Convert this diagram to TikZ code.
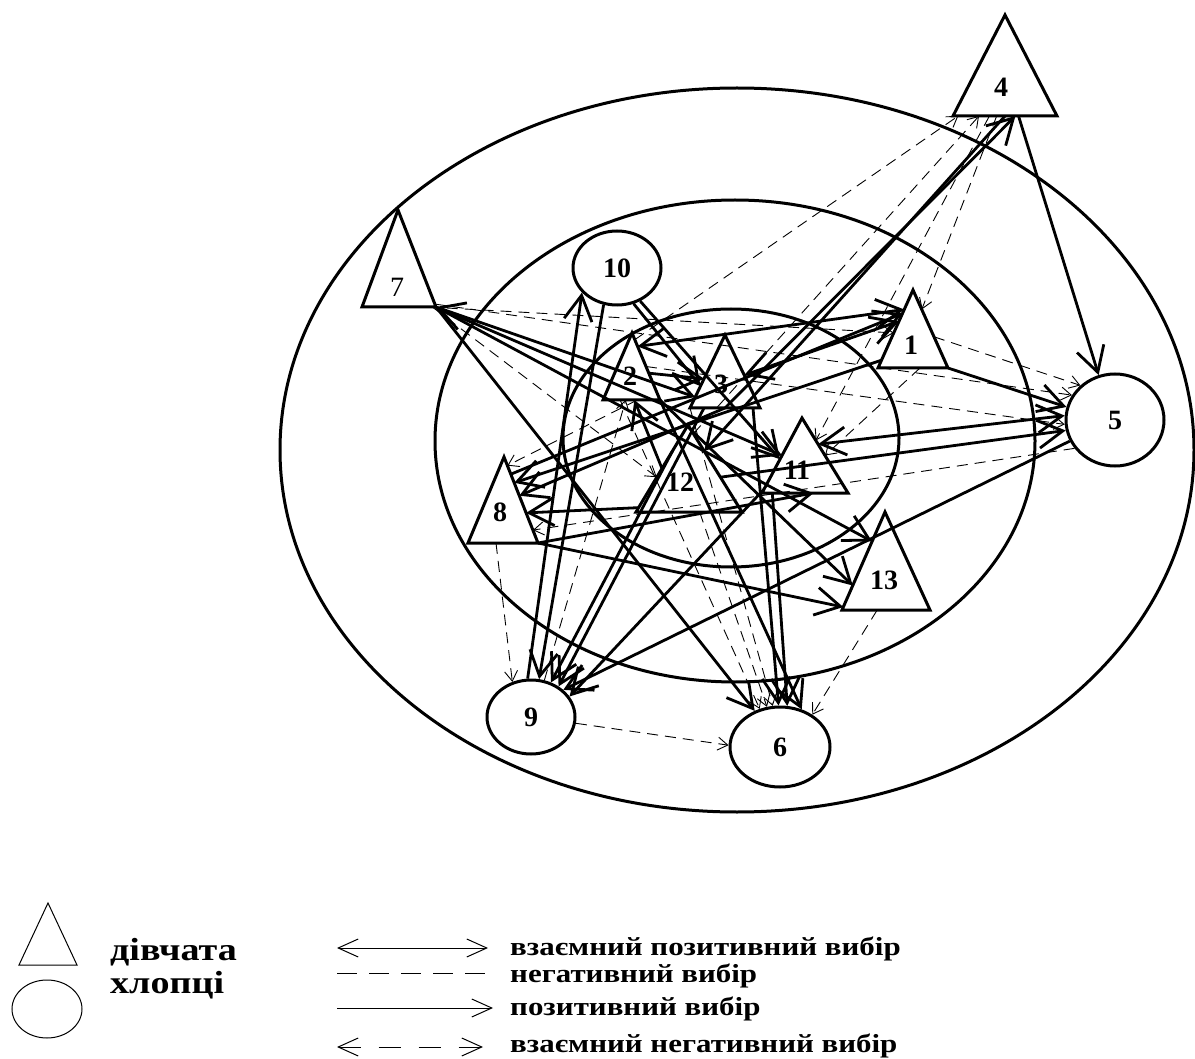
\documentclass[tikz,border=0pt]{standalone}
\usepackage{fontspec}
\setmainfont{Liberation Serif}
\usetikzlibrary{arrows.meta,shapes.geometric,calc}
\newcommand{\legwide}[1]{\scalebox{1.19}[1]{#1}}
\tikzset{
  ringline/.style={line width=3pt},
  tri/.style={draw, line width=3pt, line join=miter},
  num/.style={font=\bfseries\fontsize{28}{28}\selectfont, inner sep=0pt},
  boy/.style={draw, ellipse, line width=3pt, inner sep=0pt, font=\bfseries\fontsize{28}{28}\selectfont},
  bigtip/.tip={Straight Barb[length=25pt,width=28pt]},
  smalltip/.tip={Straight Barb[length=10pt,width=13pt]},
  legtip/.tip={Straight Barb[length=20pt,width=18pt]},
  posarr/.style={line width=2.8pt, -bigtip},
  mutpos/.style={line width=2.8pt, bigtip-bigtip},
  negarr/.style={line width=0.9pt, dash pattern=on 11pt off 7pt, -smalltip},
  legline/.style={line width=1pt},
  legtext/.style={font=\bfseries\fontsize{26}{28}\selectfont, anchor=base west, inner sep=0pt},
  legtextb/.style={font=\bfseries\fontsize{32}{34}\selectfont, anchor=base west, inner sep=0pt}
}
\begin{document}
\begin{tikzpicture}[x=1pt,y=-1pt]
\useasboundingbox (0,0) rectangle (1195,1059);
% rings
\draw[ringline] (737,450) ellipse [x radius=457pt, y radius=362pt];
\draw[ringline] (735,441) ellipse [x radius=300pt, y radius=241pt];
\draw[ringline] (731,438) ellipse [x radius=168pt, y radius=129pt];
% triangle corners
\coordinate (t1a) at (913,290); \coordinate (t1l) at (878,368); \coordinate (t1r) at (948,368);
\coordinate (t2a) at (632,333); \coordinate (t2l) at (603,400); \coordinate (t2r) at (660,400);
\coordinate (t3a) at (725,335); \coordinate (t3l) at (690,408); \coordinate (t3r) at (760,408);
\coordinate (t4a) at (1005,15); \coordinate (t4l) at (953,116); \coordinate (t4r) at (1057,116);
\coordinate (t7a) at (398,210); \coordinate (t7l) at (362,307); \coordinate (t7r) at (436,307);
\coordinate (t8a) at (504,457); \coordinate (t8l) at (468,543); \coordinate (t8r) at (538,543);
\coordinate (t11a) at (802,418); \coordinate (t11l) at (762,493); \coordinate (t11r) at (848,493);
\coordinate (t12a) at (688,425); \coordinate (t12l) at (636,512); \coordinate (t12r) at (742,512);
\coordinate (t13a) at (885,512); \coordinate (t13l) at (842,610); \coordinate (t13r) at (930,610);
% girls
\foreach \t in {1,2,3,4,7,8,11,12,13}{\draw[tri] (t\t a) -- (t\t l) -- (t\t r) -- cycle;}
\node[num] (n1) at (911,345) {1};
\node[num] (n2) at (630,376) {2};
\node[num] (n3) at (721,384) {3};
\node[num] (n4) at (1001,87) {4};
\node[num, font=\fontsize{28}{28}\selectfont] (n7) at (397,287) {7};
\node[num] (n8) at (500,512) {8};
\node[num] (n11) at (797,470) {11};
\node[num] (n12) at (680,482) {12};
\node[num] (n13) at (884,580) {13};
% boys
\node[boy, minimum width=98pt, minimum height=92pt] (c5) at (1115,420) {5};
\node[boy, minimum width=100pt, minimum height=80pt] (c6) at (780,747) {6};
\node[boy, minimum width=88pt, minimum height=74pt] (c9) at (531,717) {9};
\node[boy, minimum width=88pt, minimum height=74pt] (c10) at (617,268) {10};
% positive choices
\draw[posarr] ($(t4l)!0.63!(t4r)$) -- (c5.110);
\draw[posarr] ($(t4l)!0.5!(t4r)$) -- ($(t12a)!0.3!(t12r)$);
\draw[posarr] ($(t3l)!0.5!(t3r)$) -- ($(t4l)!0.6!(t4r)$);
\draw[posarr] (t7r) -- (c6.125);
\draw[mutpos] (t7r) -- ($(t3a)!0.85!(t3l)$);
\draw[posarr] (t7r) -- ($(t11a)!0.5!(t11l)$);
\draw[posarr] (t7r) -- ($(t13a)!0.3!(t13l)$);
\draw[posarr] (t2r) -- ($(t13a)!0.75!(t13l)$);
\draw[posarr] (t8r) -- ($(t13l)!0.03!(t13a)$);
\draw[mutpos] ($(t2a)!0.2!(t2r)$) -- ($(t1a)!0.25!(t1l)$);
\draw[mutpos] ($(t3a)!0.55!(t3r)$) -- ($(t1a)!0.4!(t1l)$);
\draw[mutpos] (c5.175) -- ($(t11a)!0.35!(t11r)$);
\draw[posarr] (c5.205) -- (c9.40);
\draw[posarr] (t1r) -- (c5.165);
\draw[posarr] ($(t12r)!0.4!(t12a)$) -- (c5.192);
\draw[posarr] (c9.95) -- (c10.215);
\draw[posarr] (c10.250) -- (c9.78);
\draw[posarr] (c10.295) -- ($(t3a)!0.7!(t3l)$);
\draw[posarr] ($(t2a)!0.6!(t2r)$) -- ($(t3a)!0.6!(t3l)$);
\draw[posarr] ($(t12a)!0.5!(t12l)$) -- ($(t2l)!0.55!(t2r)$);
\draw[posarr] ($(t3l)!0.2!(t3r)$) -- (c9.48);
\draw[posarr] ($(t11l)!0.05!(t11a)$) -- (c9.28);
\draw[posarr] ($(t12a)!0.3!(t12l)$) -- (c9.60);
\draw[posarr] ($(t3l)!0.9!(t3r)$) -- (c6.92);
\draw[posarr] ($(t11l)!0.12!(t11r)$) -- (c6.80);
\draw[posarr] (t2r) -- (c6.60);
\draw[posarr] ($(t12l)!0.05!(t12a)$) -- ($(t8a)!0.65!(t8r)$);
\draw[posarr] ($(t1a)!0.9!(t1l)$) -- ($(t8a)!0.3!(t8r)$);
\draw[posarr] ($(t8a)!0.2!(t8r)$) -- ($(t1a)!0.3!(t1l)$);
\draw[posarr] ($(t3l)!0.5!(t3r)$) -- ($(t8a)!0.45!(t8r)$);
\draw[posarr] (t8r) -- ($(t11l)!0.6!(t11r)$);
\draw[posarr] (c10.305) -- ($(t11a)!0.55!(t11l)$);
% negative choices
\draw[negarr] ($(t2a)!0.1!(t2r)$) -- ($(t4l)!0.05!(t4r)$);
\draw[negarr] ($(t4l)!0.42!(t4r)$) -- ($(t1a)!0.25!(t1r)$);
\draw[negarr] ($(t4l)!0.35!(t4r)$) -- ($(t11a)!0.3!(t11r)$);
\draw[negarr] ($(t12a)!0.1!(t12r)$) -- ($(t4l)!0.25!(t4r)$);
\draw[negarr] (c9.-8) -- (c6.178);
\draw[negarr] ($(t8l)!0.4!(t8r)$) -- (c9.118);
\draw[negarr] ($(t13l)!0.4!(t13r)$) -- (c6.45);
\draw[negarr] ($(t2l)!0.3!(t2r)$) -- (c6.118);
\draw[negarr] ($(t12l)!0.6!(t12r)$) -- (c6.108);
\draw[negarr] (t3l) -- (c6.100);
\draw[negarr] ($(t1a)!0.6!(t1r)$) -- (c5.135);
\draw[negarr] ($(t7l)!0.9!(t7r)$) -- ($(t1a)!0.55!(t1l)$);
\draw[negarr] ($(t7a)!0.97!(t7r)$) -- (c5.150);
\draw[negarr] (c5.215) -- ($(t8a)!0.85!(t8r)$);
\draw[negarr] ($(t2a)!0.5!(t2r)$) -- (c5.185);
\draw[negarr] ($(t2l)!0.6!(t2r)$) -- ($(t8a)!0.1!(t8r)$);
\draw[negarr] ($(t7l)!0.95!(t7r)$) -- ($(t12a)!0.6!(t12l)$);
\draw[negarr] (c9.70) -- ($(t2l)!0.4!(t2r)$);
\draw[negarr] ($(t1l)!0.6!(t1r)$) -- ($(t11a)!0.5!(t11r)$);
% legend
\coordinate (lga) at (48,903); \coordinate (lgl) at (19,965); \coordinate (lgr) at (77,965);
\draw[legline] (lga) -- (lgl) -- (lgr) -- cycle;
\node[draw, ellipse, legline, minimum width=70pt, minimum height=58pt, inner sep=0pt] (lgb) at (47,1009) {};
\node[legtextb] (lgt1) at (110,960) {\legwide{дівчата}};
\node[legtextb] (lgt2) at (110,993) {\legwide{хлопці}};
\coordinate (l1a) at (337,948); \coordinate (l1b) at (488,948);
\coordinate (l2a) at (337,973); \coordinate (l2b) at (485,973);
\coordinate (l3a) at (337,1008); \coordinate (l3b) at (493,1008);
\coordinate (l4a) at (337,1047); \coordinate (l4b) at (483,1047);
\draw[legline, legtip-legtip] (l1a) -- (l1b);
\draw[legline, dash pattern=on 20pt off 12pt] (l2a) -- (l2b);
\draw[legline, -legtip] (l3a) -- (l3b);
\draw[legline, dash pattern=on 22pt off 18pt, legtip-legtip] (l4a) -- (l4b);
\node[legtext] (lx1) at (510,955) {\legwide{взаємний позитивний вибір}};
\node[legtext] (lx2) at (510,982) {\legwide{негативний вибір}};
\node[legtext] (lx3) at (510,1015) {\legwide{позитивний вибір}};
\node[legtext] (lx4) at (510,1052) {\legwide{взаємний негативний вибір}};
\end{tikzpicture}
\end{document}
